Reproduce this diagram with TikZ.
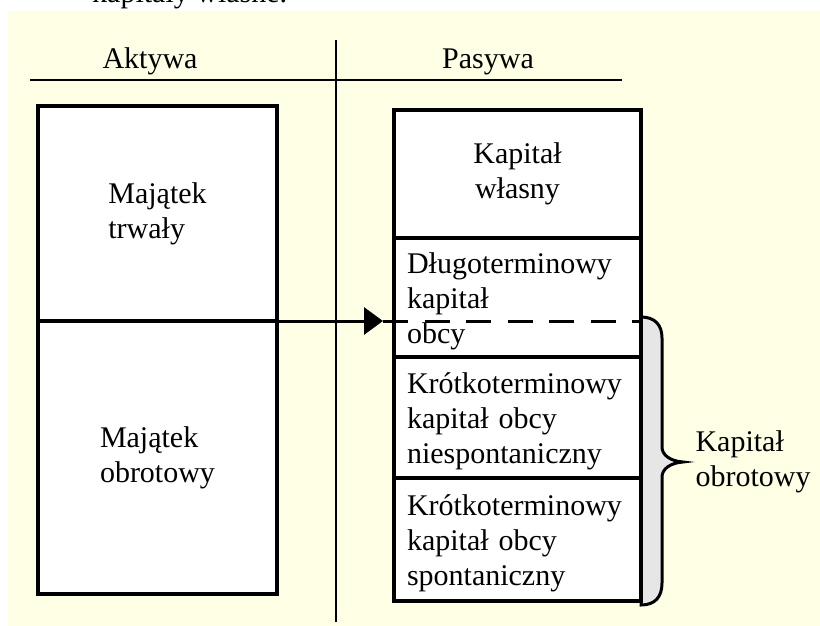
\documentclass[tikz,border=0pt]{standalone}
\usepackage{fontspec}
\setmainfont{Liberation Serif}
\usepackage{tikz}
\usetikzlibrary{arrows.meta, positioning, calc}
\definecolor{Kremowy}{RGB}{255, 255, 230}
\definecolor{Szary}{RGB}{230, 230, 230}

\begin{document}
\begin{tikzpicture}[x=1pt, y=-1pt, node distance=0pt,
    every node/.style={font=\fontsize{30}{35}\selectfont},
    blok/.style={draw, rectangle, fill=white, line width=3.5pt, outer sep=0pt, inner xsep=13pt,
        execute at begin node={\rule{0pt}{29pt}}},
    opis/.style={blok, minimum width=247pt, text width=221pt, align=left}]
    \useasboundingbox (0,0) rectangle (820,626);
    \fill[Kremowy] (8,11) rectangle (820,626);
    \node[anchor=base west, inner sep=0pt] (tytul) at (92,3) {kapitały własne.};

    % naglowki bilansu
    \node[anchor=base] (akt) at (150,69) {Aktywa};
    \node[anchor=base] (pas) at (488,69) {Pasywa};
    \draw[line width=1.5pt] (30,80) -- (622,80);
    \draw[line width=1.5pt] (336,40) -- (336,622);

    % aktywa
    \node[blok, minimum width=239pt, minimum height=215pt, align=left, anchor=north west] (trwaly) at (38,106) {Majątek\\trwały};
    \node[blok, minimum width=239pt, minimum height=273pt, align=left, below=of trwaly] (obrot) {Majątek\\obrotowy};

    % klamra
    \coordinate (szpic) at (683,462);
    \draw[line width=3pt, fill=Szary] (641,317) .. controls (655,317) and (662,325) .. (662,338) -- (662,447)
        .. controls (662,455) and (670,461) .. (szpic) .. controls (670,463) and (662,469) .. (662,477)
        -- (662,583) .. controls (662,597) and (655,605) .. (641,605) -- cycle;
    \node[right=9pt of szpic, align=left] (kapobr) {Kapitał\\obrotowy};

    % pasywa
    \node[blok, minimum width=247pt, minimum height=128pt, align=center, anchor=north west] (wlasny) at (394,110) {Kapitał\\własny};
    \node[opis, minimum height=119pt, below=of wlasny] (dlugo) {Długoterminowy\\kapitał\\obcy};
    \node[opis, minimum height=121pt, below=of dlugo] (niespont) {Krótkoterminowy\\kapitał obcy\\niespontaniczny};
    \node[opis, minimum height=123pt, below=of niespont] (spont) {Krótkoterminowy\\kapitał obcy\\spontaniczny};

    \coordinate (grot) at (383,321);
    \draw[line width=3pt, -{Triangle[length=19pt, width=27pt]}] (trwaly.south east) -- (grot);
    \draw[line width=3pt, dash pattern=on 25pt off 16.5pt] (grot) -- (grot -| dlugo.east);
\end{tikzpicture}
\end{document}
